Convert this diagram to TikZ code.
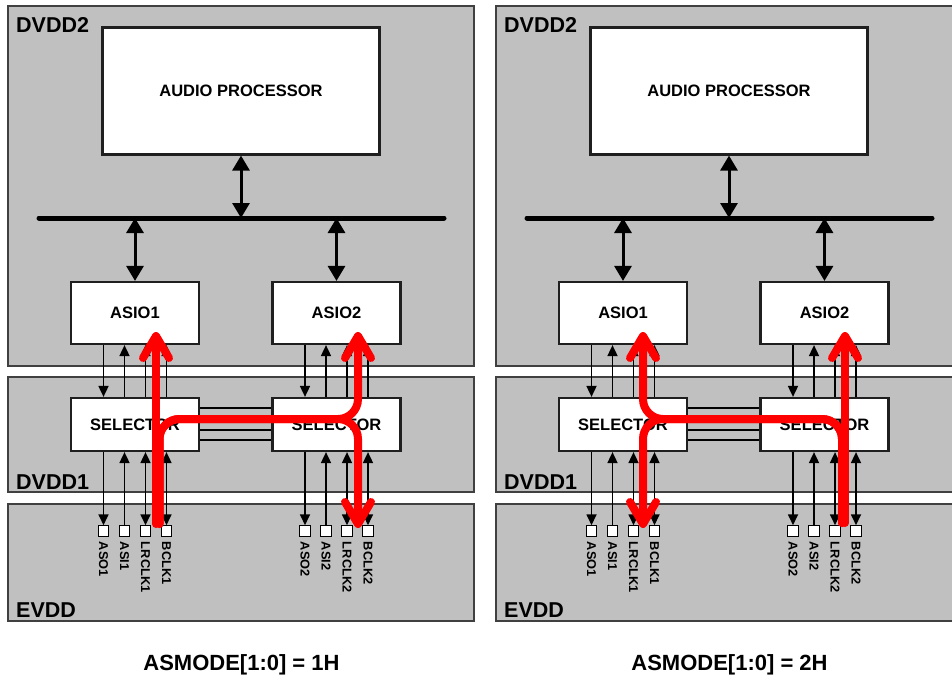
\documentclass[tikz,border=0pt]{standalone}
\usepackage{fontspec}
\setmainfont{Liberation Sans}
\usetikzlibrary{arrows.meta,calc}
\definecolor{padgray}{HTML}{C0C0C0}
\definecolor{rimgray}{HTML}{404040}
\definecolor{flowred}{HTML}{FF0000}

\begin{document}
\begin{tikzpicture}[x=1pt,y=-1pt,
    supplybox/.style={draw=rimgray,fill=padgray,line width=1.5pt},
    supplylabel/.style={font=\fontsize{21.5}{24}\selectfont\bfseries,anchor=base west,inner sep=0pt},
    block/.style={draw=black!88,fill=white,line width=2.2pt,align=center,inner sep=0pt,
                  font=\fontsize{16.5}{19}\selectfont\bfseries},
    pad/.style={draw=black,fill=white,line width=1pt,minimum size=10.5pt,inner sep=0pt},
    padlabel/.style={rotate=-90,anchor=west,inner sep=0pt,font=\fontsize{12.8}{14}\selectfont\bfseries},
    busline/.style={line width=5pt,line cap=round},
    busarrow/.style={line width=3pt,{Triangle[length=15pt,width=17pt]}-{Triangle[length=15pt,width=17pt]}},
    sig/.style={line width=1.7pt},
    >={Triangle[length=11pt,width=10pt]},
    flow/.style={draw=flowred,line width=8pt,line cap=round,rounded corners=20pt,
                 -{Straight Barb[length=22pt,width=26pt,round]}}]
  \clip (0,0) rectangle (952,677);
  \fill[white] (0,0) rectangle (952,677);

  \foreach \p/\dx/\mode in {L/0/1H,R/488/2H} {
    \begin{scope}[xshift=\dx pt]
      % supply domains
      \draw[supplybox] (8,6) rectangle (474,366);
      \draw[supplybox] (8,377) rectangle (474,492);
      \draw[supplybox] (8,504) rectangle (474,621);
      \node[supplylabel] (dvdd2\p) at (16,33) {DVDD2};
      \node[supplylabel] (dvdd1\p) at (16,489) {DVDD1};
      \node[supplylabel] (evdd\p) at (16,617) {EVDD};
      % blocks
      \node[block,minimum width=277pt,minimum height=127pt] (ap\p) at (241,91) {AUDIO PROCESSOR};
      \node[block,minimum width=128pt,minimum height=62pt] (asio1\p) at (135,313) {ASIO1};
      \node[block,minimum width=128pt,minimum height=62pt] (asio2\p) at (336.5,313) {ASIO2};
      \node[block,minimum width=128pt,minimum height=53pt] (sel1\p) at (135,424.5) {SELECTOR};
      \node[block,minimum width=128pt,minimum height=53pt] (sel2\p) at (336.5,424.5) {SELECTOR};
      % internal bus
      \coordinate (busw\p) at (39,218);
      \coordinate (buse\p) at (444,218);
      \draw[busline] (busw\p) -- (buse\p);
      \draw[busarrow] (ap\p.south) -- (ap\p.south |- busw\p);
      \draw[busarrow] (asio1\p.north |- busw\p) -- (asio1\p.north);
      \draw[busarrow] (asio2\p.north |- busw\p) -- (asio2\p.north);
      % selector to selector
      \foreach \dy in {16.4,7.4,-5.6,-15.6}
        \draw[sig] ([yshift=\dy pt]sel1\p.east) -- ([yshift=\dy pt]sel2\p.west);
      % pins and signal lines
      \foreach \n/\cx in {1/135,2/336.5} {
        \foreach \k/\off/\nm in {1/-31.5/ASO,2/-10.5/ASI,3/10.5/LRCLK,4/31.5/BCLK} {
          \node[pad] (pin\n\k\p) at ({\cx+\off},531) {};
          \node[padlabel] (lab\n\k\p) at ([yshift=-5pt]pin\n\k\p.south) {\nm\n};
          \ifnum\k=1
            \draw[sig,->] (asio\n\p.south -| pin\n\k\p) -- (sel\n\p.north -| pin\n\k\p);
            \draw[sig,->] (sel\n\p.south -| pin\n\k\p) -- (pin\n\k\p.north);
          \else
            \draw[sig,<-] (asio\n\p.south -| pin\n\k\p) -- (sel\n\p.north -| pin\n\k\p);
            \ifnum\k=2
              \draw[sig,<-] (sel\n\p.south -| pin\n\k\p) -- (pin\n\k\p.north);
            \else
              \draw[sig,<->] (sel\n\p.south -| pin\n\k\p) -- (pin\n\k\p.north);
            \fi
          \fi
        }
      }
      \node[font=\fontsize{22}{26}\selectfont\bfseries,anchor=base] (mode\p) at (241.5,670) {ASMODE[1:0] = \mode};
    \end{scope}
  }

  % clock routing, ASMODE = 1H
  \coordinate (srcAL) at (156,524);
  \coordinate (dstAL) at (156,332);
  \coordinate (srcBL) at (159.5,524);
  \coordinate (tapL) at (358,419);
  \coordinate (dstBL) at (358,332);
  \coordinate (outL) at (358,528);
  \draw[flow] (srcAL) -- (dstAL);
  \draw[flow] (srcBL) |- (tapL) -- (dstBL);
  \draw[flow] (srcBL) |- (tapL) -- (outL);

  % clock routing, ASMODE = 2H
  \coordinate (srcAR) at (845,523);
  \coordinate (dstAR) at (845,332);
  \coordinate (srcBR) at (842,523);
  \coordinate (tapR) at (643,419);
  \coordinate (dstBR) at (643,332);
  \coordinate (outR) at (643,528);
  \draw[flow] (srcAR) -- (dstAR);
  \draw[flow] (srcBR) |- (tapR) -- (dstBR);
  \draw[flow] (srcBR) |- (tapR) -- (outR);
\end{tikzpicture}
\end{document}
